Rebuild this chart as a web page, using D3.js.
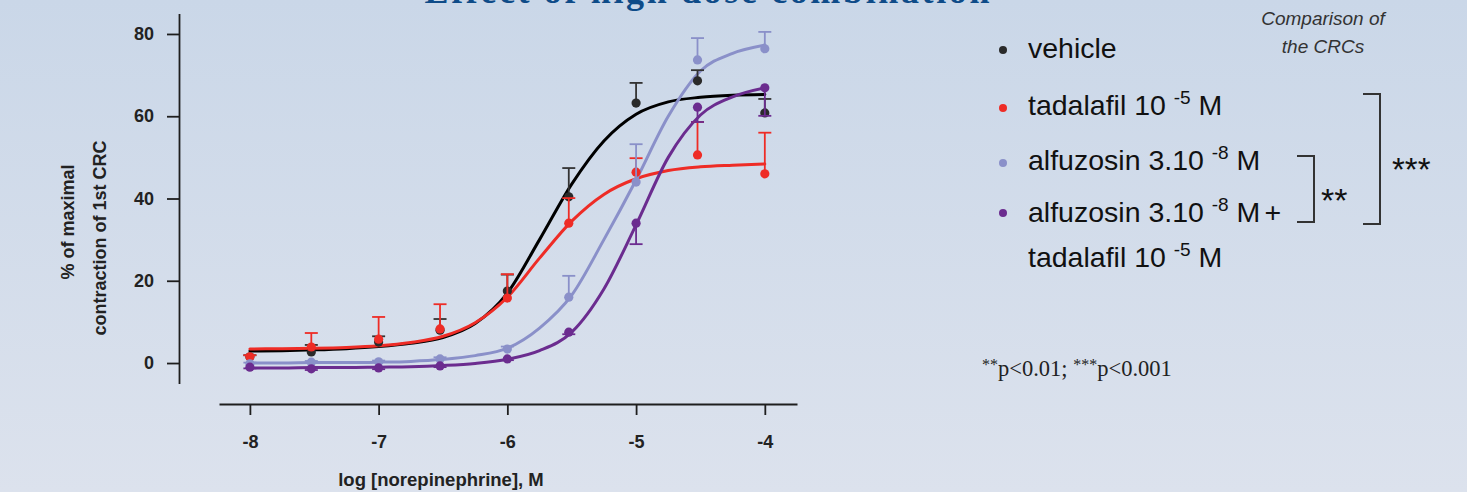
<!DOCTYPE html>
<html>
<head>
<meta charset="utf-8">
<script src="https://cdn.jsdelivr.net/npm/d3@7"></script>
<style>
  html, body { margin: 0; padding: 0; overflow: hidden; }
  svg { display: block; }
  text { white-space: pre; }
</style>
</head>
<body>
<svg id="chart" width="1467" height="492"></svg>
<script>
// norepinephrine concentrations (M) used in the CRC
const concentrations = [1e-8, 3e-8, 1e-7, 3e-7, 1e-6, 3e-6, 1e-5, 3e-5, 1e-4];

// mean +/- sem (% of maximal contraction of 1st CRC)
const vehicleMean   = [1.5, 2.7, 5.1, 8.0, 17.5, 40.4, 63.2, 68.6, 60.8];
const vehicleSem    = [0.4, 1.7, 1.4, 2.7, 4.0, 7.0, 4.9, 2.6, 3.4];
const tadalafilMean = [1.5, 3.9, 5.8, 8.3, 15.8, 34.0, 46.4, 50.6, 46.0];
const tadalafilSem  = [0.4, 3.4, 5.4, 6.0, 5.8, 6.1, 3.4, 8.0, 10.0];
const alfuzosinMean = [-0.2, 0.2, 0.3, 1.0, 3.4, 16.0, 44.0, 73.7, 76.4];
const alfuzosinSem  = [0.3, 0.3, 0.3, 0.4, 0.6, 5.2, 9.2, 5.3, 4.1];
const comboMean     = [-1.0, -1.4, -1.2, -0.7, 1.0, 7.5, 34.0, 62.2, 66.9];
const comboSem      = [0.3, 0.3, 0.3, 0.3, 0.3, 0.5, 5.1, 3.6, 6.8];

// fitted curves, every quarter log unit
const fitLogDoses  = [-8, -7.75, -7.5, -7.25, -7, -6.75, -6.5, -6.25, -6, -5.75, -5.5, -5.25, -5, -4.75, -4.5, -4.25, -4];
const vehicleFit   = [2.9, 3.0, 3.2, 3.5, 4.0, 4.8, 6.2, 9.6, 17.0, 30.0, 43.5, 54.0, 60.5, 63.5, 64.6, 65.1, 65.3];
const tadalafilFit = [3.4, 3.5, 3.6, 3.8, 4.2, 5.0, 6.5, 9.8, 16.0, 25.5, 34.5, 41.0, 44.8, 46.8, 47.7, 48.1, 48.4];
const alfuzosinFit = [0.0, 0.0, 0.1, 0.1, 0.2, 0.4, 0.9, 1.8, 3.6, 8.5, 16.5, 30.0, 44.5, 60.0, 71.0, 75.3, 77.3];
const comboFit     = [-1.2, -1.2, -1.1, -1.1, -1.0, -0.9, -0.6, -0.1, 0.9, 3.0, 7.5, 18.0, 33.6, 50.0, 60.3, 64.7, 66.9];

const seriesNames  = ["vehicle", "tadalafil", "alfuzosin", "alfuzosin + tadalafil"];
const seriesColors = ["#000000", "#ee2c26", "#8a90c9", "#6b2c8f"];
const dotColors    = ["#2a2a2a", "#ee2c26", "#8a90c9", "#6b2c8f"];
const errorSide    = [1, 1, 1, -1];   // which side of the mean the bar is drawn

const xTicks = [-8, -7, -6, -5, -4];
const yTicks = [0, 20, 40, 60, 80];

const legendLines = [
  [["vehicle"]],
  [["tadalafil 10 "], ["-5", true], [" M"]],
  [["alfuzosin 3.10 "], ["-8", true], [" M"]],
  [["alfuzosin 3.10 "], ["-8", true], [" M"], ["+", false, 4]],
  [["tadalafil 10 "], ["-5", true], [" M"]]
];

const means = [vehicleMean, tadalafilMean, alfuzosinMean, comboMean];
const sems  = [vehicleSem, tadalafilSem, alfuzosinSem, comboSem];
const fits  = [vehicleFit, tadalafilFit, alfuzosinFit, comboFit];
const logDoses = concentrations.map(c => Math.log10(c));

const svg = d3.select("#chart");
const sans = "'Liberation Sans', Arial, sans-serif";

// background
const defs = svg.append("defs");
const grad = defs.append("linearGradient")
    .attr("id", "bg").attr("x1", 0).attr("y1", 0).attr("x2", 0).attr("y2", 1);
grad.append("stop").attr("offset", "0%").attr("stop-color", "#cad7e8");
grad.append("stop").attr("offset", "100%").attr("stop-color", "#dce2ed");
svg.append("rect").attr("width", 1467).attr("height", 492).attr("fill", "url(#bg)");

// title, mostly cut off by the top edge in the original
svg.append("text")
    .attr("x", 707).attr("y", 3)
    .attr("text-anchor", "middle")
    .attr("font-family", "'Liberation Serif', serif")
    .attr("font-weight", "bold")
    .attr("font-size", 36)
    .attr("textLength", 565)
    .attr("fill", "#0e4b88")
    .text("Effect of high dose combination");

const x = d3.scaleLinear().domain([-8.24, -3.75]).range([219, 797]);
const y = d3.scaleLinear().domain([-5, 85]).range([383.6, 13.4]);

// axes
const yAxis = svg.append("g")
    .attr("transform", "translate(179,0)")
    .call(d3.axisLeft(y).tickValues(yTicks).tickFormat(d => String(d))
        .tickSize(12).tickSizeOuter(0).tickPadding(13));
const xAxis = svg.append("g")
    .attr("transform", "translate(0,404)")
    .call(d3.axisBottom(x).tickValues(xTicks).tickFormat(d => String(d))
        .tickSize(11).tickSizeOuter(0).tickPadding(20));

[yAxis, xAxis].forEach(g => {
    g.selectAll("path, line").attr("stroke", "#1e1e1e").attr("stroke-width", 1.8);
    g.selectAll("text")
        .attr("fill", "#222")
        .attr("font-family", sans)
        .attr("font-weight", "bold")
        .attr("font-size", 18);
});

svg.append("text")
    .attr("x", 441).attr("y", 486)
    .attr("text-anchor", "middle")
    .attr("font-family", sans)
    .attr("font-weight", "bold").attr("font-size", 18.5).attr("fill", "#222")
    .text("log [norepinephrine], M");

svg.append("text")
    .attr("transform", "translate(74,222) rotate(-90)")
    .attr("text-anchor", "middle")
    .attr("font-family", sans)
    .attr("font-weight", "bold").attr("font-size", 18).attr("fill", "#222")
    .text("% of maximal");
svg.append("text")
    .attr("transform", "translate(106,238) rotate(-90)")
    .attr("text-anchor", "middle")
    .attr("font-family", sans)
    .attr("font-weight", "bold").attr("font-size", 18).attr("fill", "#222")
    .text("contraction of 1st CRC");

// fitted curves
const line = d3.line()
    .x((d, i) => x(fitLogDoses[i]))
    .y(d => y(d))
    .curve(d3.curveMonotoneX);

seriesNames.forEach((name, s) => {
    svg.append("path")
        .datum(fits[s])
        .attr("fill", "none")
        .attr("stroke", seriesColors[s])
        .attr("stroke-width", 3)
        .attr("stroke-linecap", "round")
        .attr("d", line);
});

// error bars and points
seriesNames.forEach((name, s) => {
    const g = svg.append("g");
    const pts = means[s].map((m, i) => ({ x: logDoses[i], m: m, e: sems[s][i] }));
    const c = s === 0 ? "#333" : seriesColors[s];
    g.selectAll("line.bar").data(pts).join("line")
        .attr("x1", d => x(d.x)).attr("x2", d => x(d.x))
        .attr("y1", d => y(d.m))
        .attr("y2", d => y(d.m + errorSide[s] * d.e))
        .attr("stroke", c).attr("stroke-width", 1.8);
    g.selectAll("line.cap").data(pts).join("line")
        .attr("x1", d => x(d.x) - 6.5).attr("x2", d => x(d.x) + 6.5)
        .attr("y1", d => y(d.m + errorSide[s] * d.e))
        .attr("y2", d => y(d.m + errorSide[s] * d.e))
        .attr("stroke", c).attr("stroke-width", 1.8);
    g.selectAll("circle").data(pts).join("circle")
        .attr("cx", d => x(d.x)).attr("cy", d => y(d.m))
        .attr("r", 4.6)
        .attr("fill", dotColors[s]);
});

// legend
const legendBaselines = [58, 115, 170, 222, 267];
const legendDotY = [50, 108, 163, 213];
legendDotY.forEach((cy, s) => {
    svg.append("circle").attr("cx", 1003).attr("cy", cy).attr("r", 4).attr("fill", dotColors[s]);
});
legendLines.forEach((parts, k) => {
    const t = svg.append("text")
        .attr("x", 1028).attr("y", legendBaselines[k])
        .attr("font-family", sans)
        .attr("font-size", 28.5).attr("fill", "#111");
    let raised = false;
    parts.forEach(p => {
        const sp = t.append("tspan").text(p[0]);
        if (p[2]) sp.attr("dx", p[2]);
        if (p[1]) {
            sp.attr("font-size", 19).attr("dy", -11);
            raised = true;
        } else if (raised) {
            sp.attr("dy", 11);
            raised = false;
        }
    });
});

// comparison brackets
svg.append("text")
    .attr("text-anchor", "middle")
    .attr("font-family", sans)
    .attr("font-style", "italic").attr("font-size", 19).attr("fill", "#333")
    .call(t => {
        t.append("tspan").attr("x", 1323).attr("y", 25).text("Comparison of");
        t.append("tspan").attr("x", 1323).attr("y", 53).text("the CRCs");
    });

const bracket = (x0, x1, y0, y1) =>
    svg.append("path")
        .attr("d", `M${x0},${y0}H${x1}V${y1}H${x0}`)
        .attr("fill", "none").attr("stroke", "#333").attr("stroke-width", 2);
bracket(1363, 1380, 94, 224);
bracket(1297, 1314, 156, 222);

svg.append("text").attr("x", 1392).attr("y", 181)
    .attr("font-family", sans)
    .attr("font-size", 33).attr("fill", "#111").text("***");
svg.append("text").attr("x", 1321).attr("y", 212)
    .attr("font-family", sans)
    .attr("font-size", 34).attr("fill", "#111").text("**");

// significance note
const note = svg.append("text")
    .attr("x", 982).attr("y", 376)
    .attr("font-family", "'Liberation Serif', serif")
    .attr("font-size", 22.5).attr("fill", "#222");
note.append("tspan").attr("font-size", 16).attr("dy", -6).text("**");
note.append("tspan").attr("dy", 6).text("p<0.01; ");
note.append("tspan").attr("font-size", 16).attr("dy", -6).text("***");
note.append("tspan").attr("dy", 6).text("p<0.001");
</script>
</body>
</html>
